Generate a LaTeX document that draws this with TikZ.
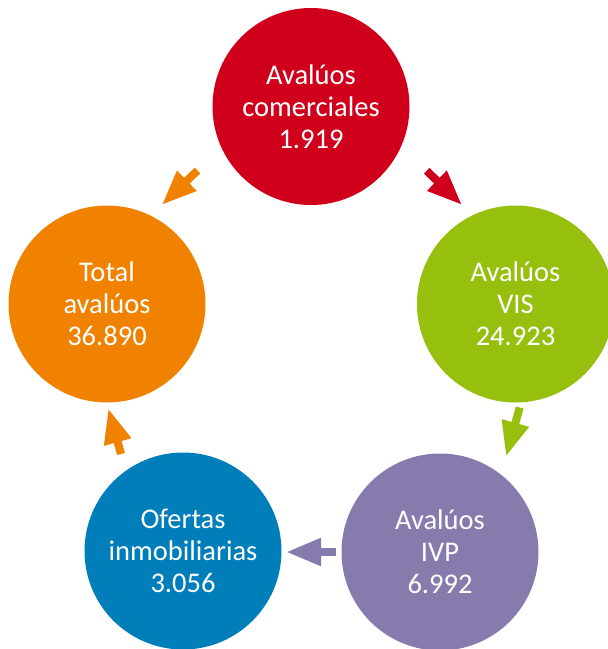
\documentclass[tikz,border=0pt]{standalone}
\usepackage{fontspec}
\setmainfont{Carlito}
\usetikzlibrary{arrows.meta}
\definecolor{cred}{HTML}{D0001C}
\definecolor{cgreen}{HTML}{97BF0D}
\definecolor{cpurple}{HTML}{867BAC}
\definecolor{cblue}{HTML}{007EB9}
\definecolor{corange}{HTML}{F08200}
\tikzset{
  bubble/.style={circle, minimum size=197pt, inner sep=0pt, text=white,
    align=center, font=\fontsize{28.5}{32}\selectfont},
  blockarrow/.style={line width=8pt, line cap=butt,
    -{Triangle[length=35pt, width=26pt]}}
}
\begin{document}
\begin{tikzpicture}[x=1pt, y=-1pt]
\useasboundingbox (0,0) rectangle (608,649);
\node[bubble, fill=cred] (com) at (311,106.5) {Avalúos\\comerciales\\1.919};
\node[bubble, fill=cgreen] (vis) at (515.5,304) {Avalúos\\VIS\\24.923};
\node[bubble, fill=cpurple] (ivp) at (440,552) {Avalúos\\IVP\\6.992};
\node[bubble, fill=cblue] (ofe) at (183,551) {Ofertas\\inmobiliarias\\3.056};
\node[bubble, fill=corange] (tot) at (107,304) {Total\\avalúos\\36.890};
\coordinate (a1s) at (426.7,170.8); \coordinate (a1e) at (462,205);
\coordinate (a2s) at (519.7,407.5); \coordinate (a2e) at (506,456.7);
\coordinate (a3s) at (336,552);     \coordinate (a3e) at (286,552);
\coordinate (a4s) at (121,454);     \coordinate (a4e) at (108.3,408.3);
\coordinate (a5s) at (197.5,170.5); \coordinate (a5e) at (161.7,205);
\draw[blockarrow, cred] (a1s) -- (a1e);
\draw[blockarrow, cgreen] (a2s) -- (a2e);
\draw[blockarrow, cpurple] (a3s) -- (a3e);
\draw[blockarrow, corange] (a4s) -- (a4e);
\draw[blockarrow, corange] (a5s) -- (a5e);
\end{tikzpicture}
\end{document}
